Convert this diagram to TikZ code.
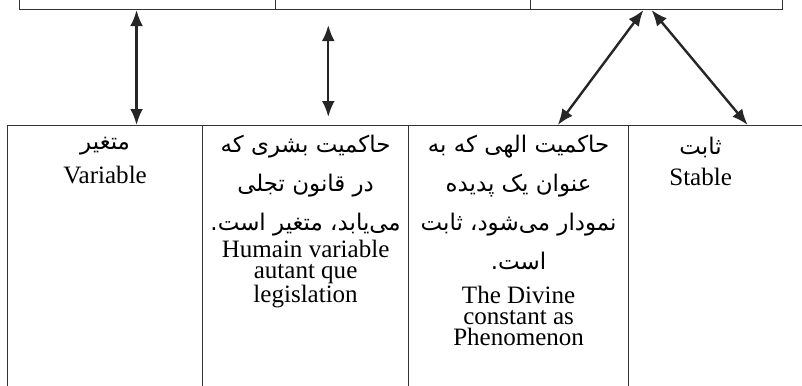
\documentclass[tikz,border=0pt]{standalone}
\usepackage{fontspec}
\setmainfont{Liberation Serif}
\newfontfamily\persianfont[Script=Arabic]{DejaVu Sans}
\TeXXeTstate=1
\usetikzlibrary{positioning,calc,arrows.meta}
\newcommand{\fa}[1]{{\persianfont\beginR #1\endR}}

\begin{document}
\begin{tikzpicture}[
    x=0.25mm, y=-0.25mm,
    topcell/.style={draw=black!80, line width=0.3mm, rectangle, inner sep=0pt, anchor=south west, minimum height=12mm},
    cell/.style={draw=black!80, line width=0.3mm, rectangle, inner sep=0pt, anchor=north west, minimum height=70mm},
    fatext/.style={align=center, inner sep=0pt, font=\fontsize{16.3}{27.7}\selectfont},
    entext/.style={align=center, inner sep=0pt, font=\fontsize{17.8}{15}\selectfont},
    arrow/.style={{Latex[length=4mm,width=3.2mm]}-{Latex[length=4mm,width=3.2mm]}, line width=0.6mm, black!85}
]
\clip (0,0) rectangle (802,385);

% Upper row (cut by the page edge)
\node[topcell, minimum width=64mm] (top1) at (19,10) {};
\node[topcell, minimum width=63.75mm] (top2) at (275,10) {};
\node[topcell, minimum width=63mm] (top3) at (530,10) {};

% Lower row
\node[cell, minimum width=48.75mm] (bot1) at (7,125) {};
\node[cell, minimum width=51.5mm] (bot2) at (202,125) {};
\node[cell, minimum width=55mm] (bot3) at (408,125) {};
\node[cell, minimum width=55.5mm] (bot4) at (628,125) {};

% Cell texts
\node[fatext, below=3mm of bot1.north] (varfa) {\fa{متغیر}};
\node[entext, below=2.5mm of varfa] (varen) {Variable};

\node[fatext, below=2.5mm of bot2.north] (humfa) {\fa{حاکمیت بشری که}\\ \fa{در قانون تجلی}\\ \fa{می‌یابد، متغیر است.}};
\node[entext, below=0.8mm of humfa] (humen) {Humain variable\\ autant que\\ legislation};

\node[fatext, below=2.5mm of bot3.north] (divfa) {\fa{حاکمیت الهی که به}\\ \fa{عنوان یک پدیده}\\ \fa{نمودار می‌شود، ثابت}\\ \fa{است.}};
\node[entext, below=4mm of divfa] (diven) {The Divine\\ constant as\\ Phenomenon};

\node[fatext, below=3mm of bot4.north, xshift=-9.75mm] (stafa) {\fa{ثابت}};
\node[entext, below=2.5mm of stafa] (staen) {Stable};

% Arrows
\coordinate (a1) at ($(top1.south west)!.457!(top1.south east)$);
\draw[arrow] (a1) -- (a1 |- bot1.north);
\coordinate (a2) at ($(top2.south west)!.208!(top2.south east)$);
\draw[arrow, shorten <=3.75mm, shorten >=2mm] (a2) -- (a2 |- bot2.north);
\coordinate (a3l) at ($(top3.south west)!.448!(top3.south east)$);
\coordinate (a3r) at ($(top3.south west)!.480!(top3.south east)$);
\draw[arrow] (a3l) -- ($(bot3.north west)!.677!(bot3.north east)$);
\draw[arrow] (a3r) -- ($(bot4.north west)!.536!(bot4.north east)$);

\end{tikzpicture}
\end{document}
